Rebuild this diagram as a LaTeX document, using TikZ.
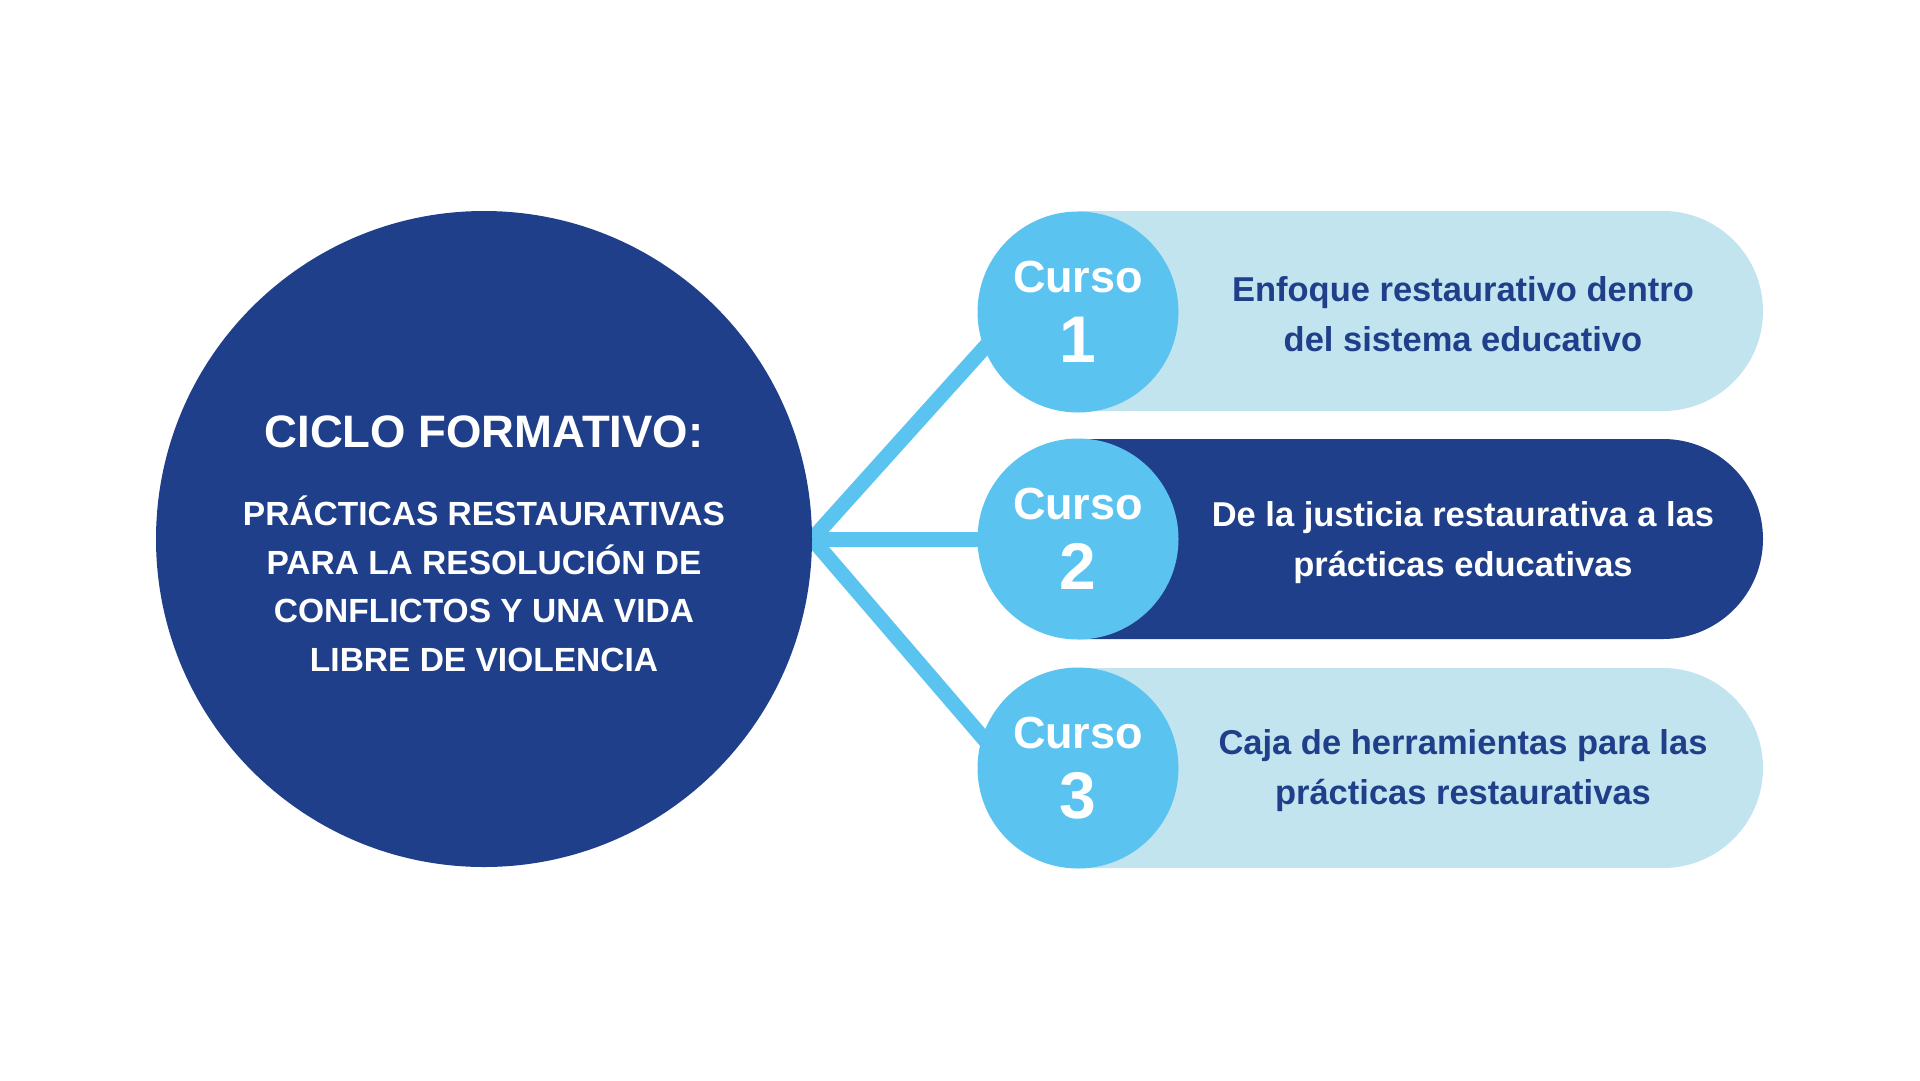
\documentclass[tikz,border=0pt]{standalone}
\usepackage{fontspec}
\setmainfont{Liberation Sans}
\usepackage{tikz}
\usetikzlibrary{positioning, shapes.misc, backgrounds}

\definecolor{azul}{HTML}{1F3F8A}
\definecolor{celeste}{HTML}{5BC3F0}
\definecolor{celestec}{HTML}{C2E4EF}

\begin{document}
\begin{tikzpicture}[x=1pt, y=-1pt, text=azul,
    curso/.style={circle, fill=celeste, minimum size=201pt, inner sep=0pt, text=white, align=center, font=\bfseries\fontsize{45}{70}\selectfont},
    pill/.style={rounded rectangle, rounded rectangle left arc=none, minimum height=200pt, minimum width=685pt, inner sep=0pt},
    tema/.style={align=center, font=\bfseries\fontsize{34.5}{50}\selectfont},
    enlace/.style={draw=celeste, line width=15pt, shorten >=-20pt}]
    \useasboundingbox (0,0) rectangle (1920,1080);

    % Circulo principal
    \node[circle, fill=azul, minimum size=656pt, inner sep=0pt] (ciclo) at (484,539) {};
    \node[text=white, font=\bfseries\fontsize{45.5}{55}\selectfont] (titulo) at (484,432) {CICLO FORMATIVO:};
    \node[text=white, align=center, font=\bfseries\fontsize{33.5}{48.5}\selectfont] (sub) at (484,584)
        {PRÁCTICAS RESTAURATIVAS\\PARA LA RESOLUCIÓN DE\\CONFLICTOS Y UNA VIDA\\LIBRE DE VIOLENCIA};

    % Cursos (pastillas)
    \node[pill, fill=celestec] (p1) at (1420.5,311) {};
    \node[pill, fill=azul] (p2) at (1420.5,539) {};
    \node[pill, fill=celestec] (p3) at (1420.5,768) {};

    \node[curso] (c1) at (1078,312) {Curso\\{\fontsize{66}{70}\selectfont 1}};
    \node[curso] (c2) at (1078,539) {Curso\\{\fontsize{66}{70}\selectfont 2}};
    \node[curso] (c3) at (1078,768) {Curso\\{\fontsize{66}{70}\selectfont 3}};

    % Conexiones
    \begin{pgfonlayer}{background}
    \draw[enlace] (ciclo.east) -- (c1.201);
    \draw[enlace] (ciclo.east) -- (c2.west);
    \draw[enlace] (ciclo.east) -- (c3.162);
    \end{pgfonlayer}

    % Textos
    \node[tema] (t1) at (1463,314) {Enfoque restaurativo dentro\\del sistema educativo};
    \node[tema, text=white] (t2) at (1463,543) {De la justicia restaurativa a las\\prácticas educativas};
    \node[tema] (t3) at (1463,771) {Caja de herramientas para las\\prácticas restaurativas};
\end{tikzpicture}
\end{document}
